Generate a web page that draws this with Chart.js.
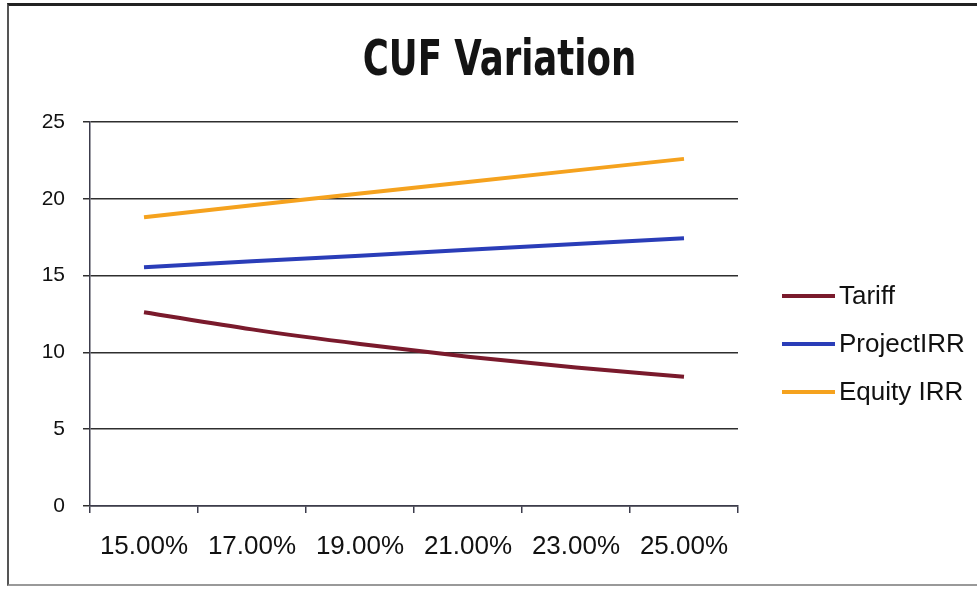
<!DOCTYPE html>
<html>
<head>
<meta charset="utf-8">
<script src="https://cdn.jsdelivr.net/npm/chart.js@4.4.1/dist/chart.umd.min.js"></script>
<style>
  html, body { margin:0; padding:0; background:#fff; }
  .wrap { position:relative; width:977px; height:590px; }
  .frame { position:absolute; left:7px; top:3px; right:-4px; bottom:4px;
    border-top:3px solid #222; border-left:2px solid #555; border-bottom:2px solid #999; pointer-events:none; }
</style>
</head>
<body>
<div class="wrap">
  <canvas id="c" width="977" height="590"></canvas>
  <div class="frame"></div>
</div>
<script>
const cufLabels = ['15.00%','17.00%','19.00%','21.00%','23.00%','25.00%'];
const tariff     = [12.62, 11.5, 10.55, 9.72, 9.02, 8.42];
const projectIRR = [15.55, 15.93, 16.3, 16.68, 17.05, 17.43];
const equityIRR  = [18.8, 19.58, 20.35, 21.1, 21.85, 22.6];
const yTicks = [0, 5, 10, 15, 20, 25];
const chartTitle = 'CUF Variation';

const AXIS = '#3c3c4c', GRID = '#2e2e2e';

// title centred on the whole frame, narrow bold face like the original
const frameTitle = {
  id:'frameTitle',
  afterDraw(chart) {
    const { ctx, width } = chart;
    ctx.save();
    ctx.font = "bold 50px 'DejaVu Sans Condensed', 'DejaVu Sans', sans-serif";
    ctx.fillStyle = '#141414';
    ctx.textAlign = 'center';
    ctx.textBaseline = 'alphabetic';
    ctx.translate(width/2 + 11, 75);
    ctx.scale(0.79, 1);
    ctx.fillText(chartTitle, 0, 0);
    ctx.restore();
  }
};

// legend drawn at the right like the Excel original
const sideLegend = {
  id:'sideLegend',
  afterDraw(chart) {
    const { ctx, chartArea } = chart;
    ctx.save();
    ctx.font = "26px 'Liberation Sans', Arial, sans-serif";
    ctx.textBaseline = 'middle';
    chart.data.datasets.forEach((ds, i) => {
      const y = chartArea.top + 174 + i*48;
      ctx.strokeStyle = ds.borderColor; ctx.lineWidth = 4;
      ctx.beginPath(); ctx.moveTo(chartArea.right+44, y); ctx.lineTo(chartArea.right+97, y); ctx.stroke();
      ctx.fillStyle = '#111';
      ctx.fillText(ds.label, chartArea.right+101, y+1);
    });
    ctx.restore();
  }
};

new Chart(document.getElementById('c'), {
  type:'line',
  data:{
    labels:cufLabels,
    datasets:[
      { label:'Tariff', data:tariff, borderColor:'#7a1a2c', borderWidth:4, cubicInterpolationMode:'monotone', pointRadius:0 },
      { label:'ProjectIRR', data:projectIRR, borderColor:'#2a3db8', borderWidth:4, tension:0, pointRadius:0 },
      { label:'Equity IRR', data:equityIRR, borderColor:'#f5a21e', borderWidth:4, tension:0, pointRadius:0 }
    ]
  },
  plugins:[sideLegend, frameTitle],
  options:{
    responsive:false, animation:false,
    layout:{ padding:{ left:0, right:239, top:122, bottom:0 } },
    plugins:{
      legend:{ display:false }, tooltip:{ enabled:false }, title:{ display:false }
    },
    scales:{
      x:{
        offset:true,
        grid:{ offset:true, drawOnChartArea:false, tickLength:7, color:AXIS, lineWidth:1.5 },
        border:{ color:AXIS, width:1.5 },
        ticks:{ color:'#111', padding:18, maxRotation:0, autoSkip:false,
          font:{ family:"'Liberation Sans', Arial, sans-serif", size:26 } },
        afterFit:s => { s.height = 84; }
      },
      y:{
        min:0, max:25,
        afterBuildTicks:s => { s.ticks = yTicks.map(v => ({ value:v })); },
        grid:{ tickLength:7, color:GRID, lineWidth:1.5 },
        border:{ color:AXIS, width:1.5 },
        ticks:{ color:'#111', padding:18,
          font:{ family:"'Liberation Sans', Arial, sans-serif", size:21 } },
        afterFit:s => { s.width = 90; }
      }
    }
  }
});
</script>
</body>
</html>
